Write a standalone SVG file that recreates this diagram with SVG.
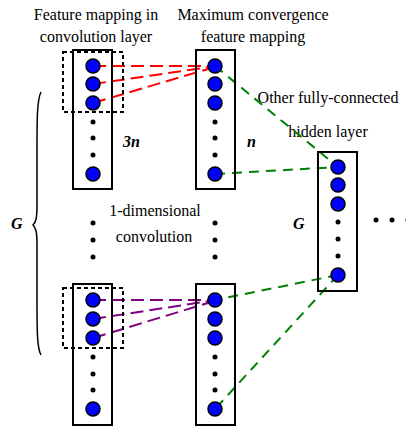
<svg xmlns="http://www.w3.org/2000/svg" width="406" height="428" viewBox="0 0 406 428">
<style>
.t{font-family:"Liberation Serif","Times New Roman",serif;font-size:16px;fill:#000;text-anchor:middle}
.bi{font-family:"Liberation Serif","Times New Roman",serif;font-size:16px;font-weight:bold;font-style:italic;fill:#000}
.col{fill:none;stroke:#000;stroke-width:2}
.dbox{fill:none;stroke:#000;stroke-width:2;stroke-dasharray:4 3}
.n{fill:#0000ff;stroke:#000;stroke-width:1.5}
.d{fill:#000}
.red{stroke:#ff0000;stroke-width:2;fill:none;stroke-dasharray:13 6}
.pur{stroke:#800080;stroke-width:2;fill:none;stroke-dasharray:13 6}
.grn{stroke:#008000;stroke-width:2;fill:none;stroke-dasharray:10 7}
</style>
<g id="labels">
<text class="t" x="96" y="20">Feature mapping in</text>
<text class="t" x="96" y="42">convolution layer</text>
<text class="t" x="253" y="20">Maximum convergence</text>
<text class="t" x="253" y="42">feature mapping</text>
<text class="t" x="328" y="103">Other fully-connected</text>
<text class="t" x="328" y="137">hidden layer</text>
<text class="t" x="155" y="216">1-dimensional</text>
<text class="t" x="154" y="242">convolution</text>
<text class="bi" x="123" y="147">3n</text>
<text class="bi" x="247" y="147">n</text>
<text class="bi" x="11" y="229">G</text>
<text class="bi" x="293" y="229">G</text>
</g>
<g id="brace">
<path d="M41,92 C37,100 37,120 37,150 L37,205 C37,218 36,222 33,225 C36,228 37,232 37,245 L37,300 C37,330 37,348 41,355" fill="none" stroke="#000" stroke-width="1.5"/>
</g>
<g id="connectors">
<line class="red" x1="93" y1="66" x2="208" y2="66"/>
<line class="red" x1="93" y1="84" x2="210" y2="67"/>
<line class="red" x1="93" y1="103" x2="208" y2="69"/>
<line class="pur" x1="93" y1="300" x2="208" y2="300"/>
<line class="pur" x1="93" y1="319" x2="210" y2="301"/>
<line class="pur" x1="93" y1="338" x2="208" y2="303"/>
<line class="grn" x1="215" y1="66" x2="338" y2="167"/>
<line class="grn" x1="215" y1="174" x2="338" y2="167"/>
<line class="grn" x1="338" y1="275" x2="215" y2="300"/>
<line class="grn" x1="338" y1="275" x2="215" y2="409"/>
</g>
<g id="conv-top">
<rect class="col" x="73" y="50" width="39" height="139"/>
<rect class="dbox" x="63" y="52" width="60" height="60"/>
<circle class="n" cx="93" cy="66" r="7"/><circle class="n" cx="93" cy="84" r="7"/><circle class="n" cx="93" cy="103" r="7"/>
<circle class="d" cx="93" cy="122" r="2.5"/><circle class="d" cx="93" cy="138" r="2.5"/><circle class="d" cx="93" cy="155" r="2.5"/>
<circle class="n" cx="93" cy="174" r="7"/>
</g>
<g id="pool-top">
<rect class="col" x="196" y="50" width="39" height="139"/>
<circle class="n" cx="215" cy="66" r="7"/><circle class="n" cx="215" cy="84" r="7"/><circle class="n" cx="215" cy="103" r="7"/>
<circle class="d" cx="215" cy="122" r="2.5"/><circle class="d" cx="215" cy="138" r="2.5"/><circle class="d" cx="215" cy="155" r="2.5"/>
<circle class="n" cx="215" cy="174" r="7"/>
</g>
<g id="mid-dots">
<circle class="d" cx="93" cy="223" r="2.5"/><circle class="d" cx="93" cy="240" r="2.5"/><circle class="d" cx="93" cy="257" r="2.5"/>
<circle class="d" cx="215" cy="223" r="2.5"/><circle class="d" cx="215" cy="240" r="2.5"/><circle class="d" cx="215" cy="257" r="2.5"/>
<circle class="d" cx="376" cy="220" r="2.5"/><circle class="d" cx="392" cy="220" r="2.5"/><circle class="d" cx="408" cy="220" r="2.5"/>
</g>
<g id="conv-bottom">
<rect class="col" x="73" y="284" width="39" height="141"/>
<rect class="dbox" x="63" y="288" width="60" height="60"/>
<circle class="n" cx="93" cy="300" r="7"/><circle class="n" cx="93" cy="319" r="7"/><circle class="n" cx="93" cy="338" r="7"/>
<circle class="d" cx="93" cy="357" r="2.5"/><circle class="d" cx="93" cy="374" r="2.5"/><circle class="d" cx="93" cy="390" r="2.5"/>
<circle class="n" cx="93" cy="409" r="7"/>
</g>
<g id="pool-bottom">
<rect class="col" x="196" y="284" width="39" height="141"/>
<circle class="n" cx="215" cy="300" r="7"/><circle class="n" cx="215" cy="319" r="7"/><circle class="n" cx="215" cy="338" r="7"/>
<circle class="d" cx="215" cy="357" r="2.5"/><circle class="d" cx="215" cy="374" r="2.5"/><circle class="d" cx="215" cy="390" r="2.5"/>
<circle class="n" cx="215" cy="409" r="7"/>
</g>
<g id="hidden">
<rect class="col" x="318" y="152" width="39" height="139"/>
<circle class="n" cx="338" cy="167" r="7"/><circle class="n" cx="338" cy="185" r="7"/><circle class="n" cx="338" cy="204" r="7"/>
<circle class="d" cx="338" cy="222" r="2.5"/><circle class="d" cx="338" cy="239" r="2.5"/><circle class="d" cx="338" cy="256" r="2.5"/>
<circle class="n" cx="338" cy="275" r="7"/>
</g>
</svg>
